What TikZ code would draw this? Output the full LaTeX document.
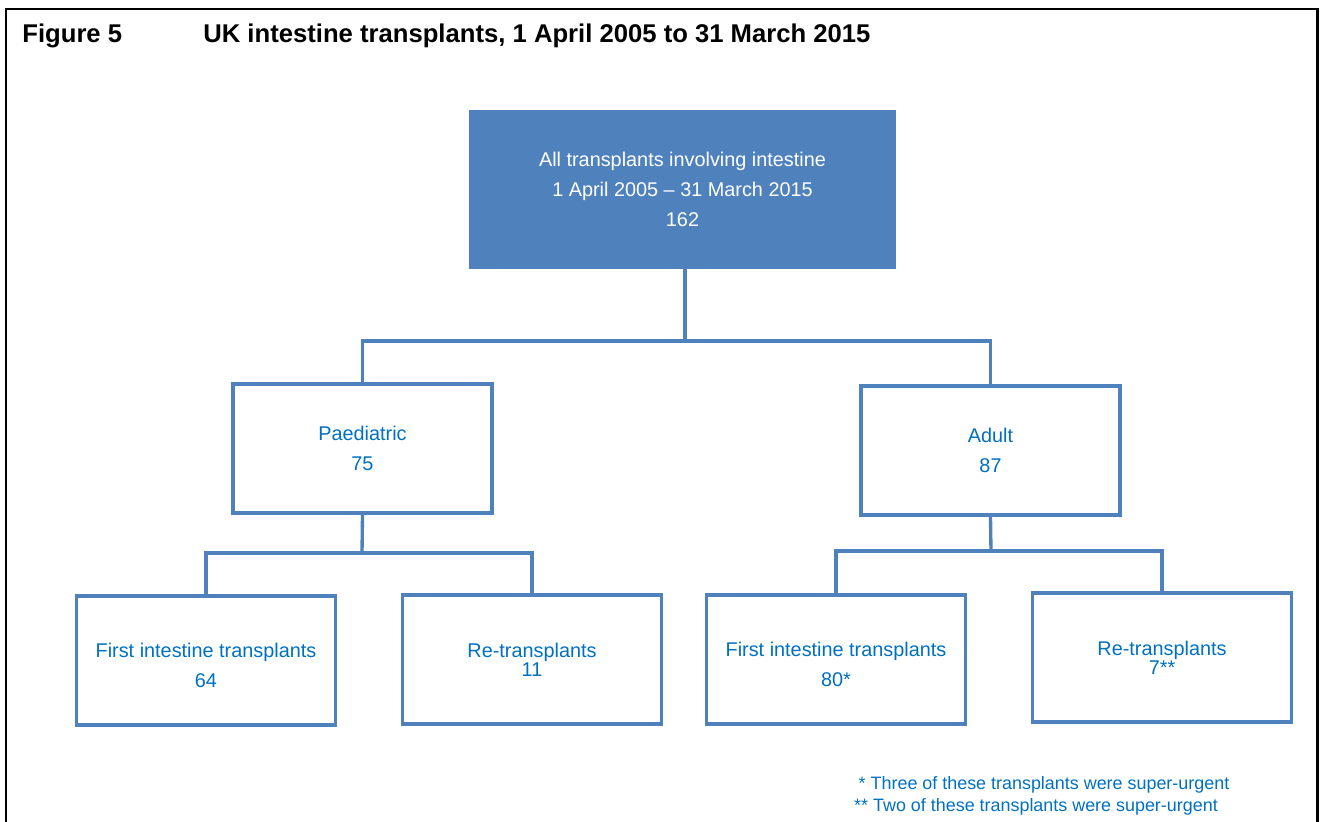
\documentclass[tikz,border=0pt]{standalone}
\usepackage{fontspec}
\setmainfont{Liberation Sans}
\definecolor{boxblue}{HTML}{4F81BD}
\definecolor{textblue}{HTML}{0070C0}

\begin{document}
\begin{tikzpicture}[x=0.02cm,y=-0.02cm]
  \tikzstyle{allbox}=[rectangle,fill=boxblue,draw=boxblue,text=white,
  		      minimum width=8.52cm,minimum height=3.16cm,inner sep=0pt,
  		      align=center,font=\fontsize{11.3}{17}\selectfont]
  \tikzstyle{group}=[rectangle,draw=boxblue,line width=1.9pt,text=textblue,
  		     minimum width=5.18cm,minimum height=2.58cm,inner sep=0pt,
  		     align=center,font=\fontsize{11.3}{17}\selectfont]
  \tikzstyle{link}=[draw=boxblue,line width=1.9pt]
  \tikzstyle{heading}=[anchor=base west,inner sep=0pt,font=\bfseries\fontsize{14.6}{17}\selectfont]
  \tikzstyle{note}=[anchor=base,text=textblue,font=\fontsize{10.2}{12}\selectfont]

  \useasboundingbox (0,0) rectangle (1323,822);
  \draw[line width=1.7pt] (6,830) -- (6,9) -- (1317,9) -- (1317,830);

  % heading
  \node [heading] (fig) at (22,42) {Figure 5};
  \node [heading] (title) at (203,42)
    {UK intestine transplants, 1 April 2005 to 31 March 2015};

  % boxes
  \node [allbox] (all) at (682.5,189.5)
    {All transplants involving intestine\\1 April 2005 -- 31 March 2015\\162};
  \node [group] (paed) at (362.5,448.5) {Paediatric\\75};
  \node [group] (adult) at (990.5,450.5) {Adult\\87};
  \node [group] (p1) at (206,660.5) {\rule{0pt}{14pt}First intestine transplants\\64};
  \node [group] (p2) at (532,659.5) {Re-transplants\\[-6pt]11};
  \node [group] (a1) at (836,659.5) {\rule{0pt}{14pt}First intestine transplants\\80*};
  \node [group] (a2) at (1162,657.5) {Re-transplants\\[-6pt]7**};

  % connectors
  \coordinate (jall) at (685,341);
  \coordinate (jpaed) at (362,553);
  \coordinate (jadult) at (991,551);
  \draw [link] (all.south -| jall) -- (jall);
  \draw [link] (jall) -| (paed.north);
  \draw [link] (jall) -| (adult.north);
  \draw [link] (paed.south) -- (jpaed);
  \draw [link] (jpaed) -| (p1.north);
  \draw [link] (jpaed) -| (p2.north);
  \draw [link] (adult.south) -- (jadult);
  \draw [link] (jadult) -| (a1.north);
  \draw [link] (jadult) -| (a2.north);

  % footnotes
  \node [note] (n1) at (1044,789) {* Three of these transplants were super-urgent};
  \node [note] (n2) at (1036,811) {** Two of these transplants were super-urgent};
\end{tikzpicture}
\end{document}
